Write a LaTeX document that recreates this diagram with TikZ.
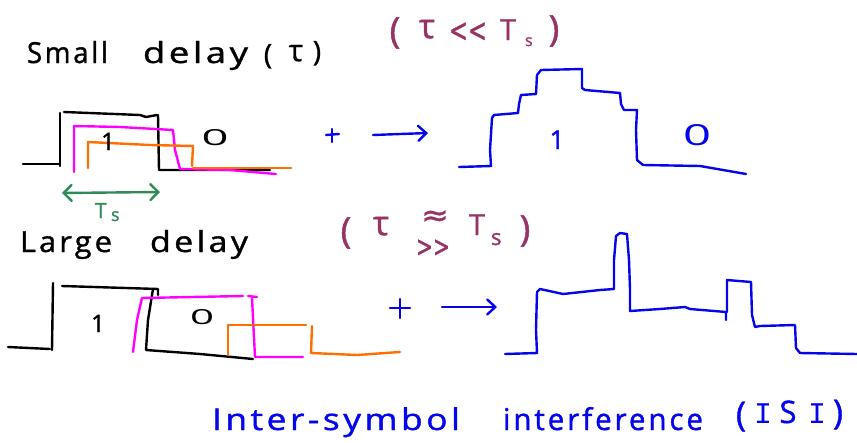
\documentclass[tikz,border=0pt]{standalone}
\usepackage{fontspec}
\setmainfont{Open Sans}[FakeBold=1.2]
\newfontfamily\plainfont{Open Sans}
\newfontfamily\symfont{DejaVu Sans}[FakeBold=1.2]
\newfontfamily\barfont{Liberation Mono}
\usetikzlibrary{arrows.meta}
\definecolor{sigmag}{RGB}{255,0,255}
\definecolor{sigor}{RGB}{255,110,0}
\definecolor{tsgreen}{RGB}{46,139,87}
\definecolor{plum}{RGB}{150,50,100}
\definecolor{inkblue}{RGB}{5,5,235}
\newcommand{\hw}[2]{\resizebox{#1}{\height}{\addfontfeatures{LetterSpace=10}#2}}
\newcommand{\hwb}[3]{\resizebox{#1}{#2}{#3}}
\newcommand{\fs}[1]{\fontsize{#1}{#1}\selectfont}
\begin{document}
\begin{tikzpicture}[x=1pt,y=-1pt,
  pen/.style={line width=2.4pt,line cap=round,line join=round},
  txt/.style={inner sep=0pt,outer sep=0pt,anchor=base west},
  txtc/.style={inner sep=0pt,outer sep=0pt,anchor=base},
  txtm/.style={inner sep=0pt,outer sep=0pt,anchor=center},
  barb/.style={-{Straight Barb[length=8pt,width=15pt,line cap=round]}},
  dbarb/.style={{Straight Barb[length=8pt,width=16pt,line cap=round]}-{Straight Barb[length=8pt,width=16pt,line cap=round]}}
]
\useasboundingbox (0,0) rectangle (857,442);

% ---------- top row: small delay ----------
\node[txt,font=\fs{29}] (small) at (27,63) {\hw{81pt}{Small}};
\node[txt,font=\fs{29}] (delay1) at (143,63) {\hw{105pt}{delay}};
\node[txtc,font=\fs{28}] (lp1) at (268,64) {(};
\node[txtc,font=\fs{30}] (tau1) at (296,61) {τ};
\node[txtc,font=\fs{28}] (rp1) at (317,61) {)};

\begin{scope}[plum]
\node[txtc,font=\fs{36}] (lp2) at (395,43) {(};
\node[txtc,font=\fs{34}] (tau2) at (427,38) {τ};
\node[txtm,font=\symfont\fs{20}] (ll) at (468,32) {\hwb{38pt}{19pt}{{<}{<}}};
\node[txt,font=\fs{29}] (T2) at (500,40) {T};
\node[txt,font=\fs{16}] (s2) at (525,46) {s};
\node[txtc,font=\fs{36}] (rp2) at (554,41) {)};
\end{scope}

% signals (small delay)
\draw[pen] (23,164) -- (60,164);
\draw[pen] (60,166) -- (60,113);
\draw[pen] (64,112) -- (140,115) -- (146,117) -- (157,115);
\draw[pen] (158,115) -- (159,170) -- (270,170);
\draw[pen,sigmag] (74,172) -- (74,126) -- (120,127) -- (173,130) -- (175,150) -- (180,169) -- (230,170) -- (276,174);
\draw[pen,sigor] (88,168) -- (88,142) -- (150,145) -- (193,146) -- (192,166);
\draw[pen,sigor] (193,168) -- (291,168);
\node[txtc,font=\fs{24}] (one1) at (108,150) {1};
\node[txtm,font=\plainfont\fs{20}] (zero1) at (215,138) {\hwb{27pt}{16pt}{0}};

% green Ts arrow
\coordinate (tsL) at (62,193);
\coordinate (tsR) at (160,192);
\draw[pen,tsgreen,dbarb] (tsL) -- (tsR);
\node[txt,font=\fs{21},tsgreen] (T3) at (95,218) {T};
\node[txt,font=\fs{18},tsgreen] (s3) at (111,221) {s};

% plus and arrow (top)
\coordinate (pl1c) at (332,135);
\draw[pen,inkblue] (326,135) -- (339,134);
\draw[pen,inkblue] (332,129) -- (332,142);
\coordinate (ar1a) at (373,135);
\coordinate (ar1b) at (428,133);
\draw[pen,inkblue,barb] (ar1a) -- (ar1b);

% result (small delay)
\draw[pen,inkblue] (459,167) -- (491,166) -- (490,150) -- (492,118) -- (494,115) -- (518,113)
  -- (519,104) -- (521,95) -- (536,94) -- (537,75) -- (541,70) -- (582,69) -- (582,88)
  -- (585,90) -- (620,93) -- (621,104) -- (624,110) -- (637,110) -- (636,130) -- (637,160)
  -- (643,165) -- (700,166) -- (746,174);
\node[txtc,font=\fs{26},inkblue] (one2) at (557,149) {1};
\node[txtm,font=\plainfont\fs{20},inkblue] (zero2) at (697,135) {\hwb{28pt}{21pt}{0}};

% ---------- middle row: large delay ----------
\node[txt,font=\fs{29}] (large) at (20,252) {\hw{92pt}{Large}};
\node[txt,font=\fs{29}] (delay2) at (150,252) {\hw{98pt}{delay}};

\begin{scope}[plum]
\node[txtc,font=\fs{36}] (lp3) at (346,243) {(};
\node[txtc,font=\fs{34}] (tau3) at (381,235) {τ};
\node[txtm,font=\symfont\fs{20}] (approx) at (435,218) {\hwb{28pt}{15pt}{≈}};
\node[txtm,font=\symfont\fs{20}] (gg) at (433,248) {\hwb{34pt}{17pt}{{>}{>}}};
\node[txt,font=\fs{29}] (T4) at (469,235) {T};
\node[txt,font=\fs{22}] (s4) at (491,245) {s};
\node[txtc,font=\fs{36}] (rp3) at (525,241) {)};
\end{scope}

% signals (large delay)
\draw[pen] (8,347) -- (50,349);
\draw[pen] (52,350) -- (53,283);
\draw[pen] (62,286) -- (158,289) -- (158,295);
\draw[pen] (153,289) -- (148,320) -- (146,350) -- (200,354) -- (253,359);
\draw[pen,sigmag] (133,352) -- (137,320) -- (142,298) -- (243,296);
\draw[pen,sigmag] (248,296) -- (257,297);
\draw[pen,sigmag] (252,298) -- (255,357) -- (303,357);
\draw[pen,sigor] (228,355) -- (228,325) -- (306,325);
\draw[pen,sigor] (312,326) -- (311,353) -- (357,355) -- (400,352);
\node[txtc,font=\fs{24}] (one3) at (98,332) {1};
\node[txtm,font=\plainfont\fs{20}] (zero3) at (202,317) {\hwb{24pt}{15pt}{0}};

% plus and arrow (middle)
\coordinate (pl2c) at (400,308);
\draw[pen,inkblue] (390,308) -- (410,308);
\draw[pen,inkblue] (400,299) -- (400,318);
\coordinate (ar2a) at (442,307);
\coordinate (ar2b) at (497,307);
\draw[pen,inkblue,barb] (ar2a) -- (ar2b);

% result (large delay)
\draw[pen,inkblue] (505,354) -- (537,353) -- (536,330) -- (537,292) -- (540,289) -- (563,294)
  -- (600,290) -- (614,289) -- (614,260) -- (616,236) -- (620,233) -- (627,234) -- (629,260)
  -- (630,289) -- (630,311) -- (660,309) -- (685,307) -- (690,309) -- (726,312) -- (726,320);
\draw[pen,inkblue] (727,312) -- (727,280) -- (751,282) -- (752,315) -- (755,327) -- (760,326)
  -- (795,325) -- (796,348) -- (800,353) -- (857,354);

% ---------- caption ----------
\begin{scope}[inkblue]
\node[txt,font=\fs{30}] (isi1) at (212,430) {\hw{248pt}{Inter-symbol}};
\node[txt,font=\fs{30}] (isi2) at (503,430) {\hw{200pt}{interference}};
\node[txtc,font=\fs{34}] (isilp) at (741,426) {(};
\node[txtc,font=\barfont\fs{30}] (isiI1) at (763,423) {I};
\node[txtc,font=\fs{31}] (isiS) at (788,423) {S};
\node[txtc,font=\barfont\fs{30}] (isiI2) at (817,423) {I};
\node[txtc,font=\fs{34}] (isirp) at (838,424) {)};
\end{scope}
\end{tikzpicture}
\end{document}
